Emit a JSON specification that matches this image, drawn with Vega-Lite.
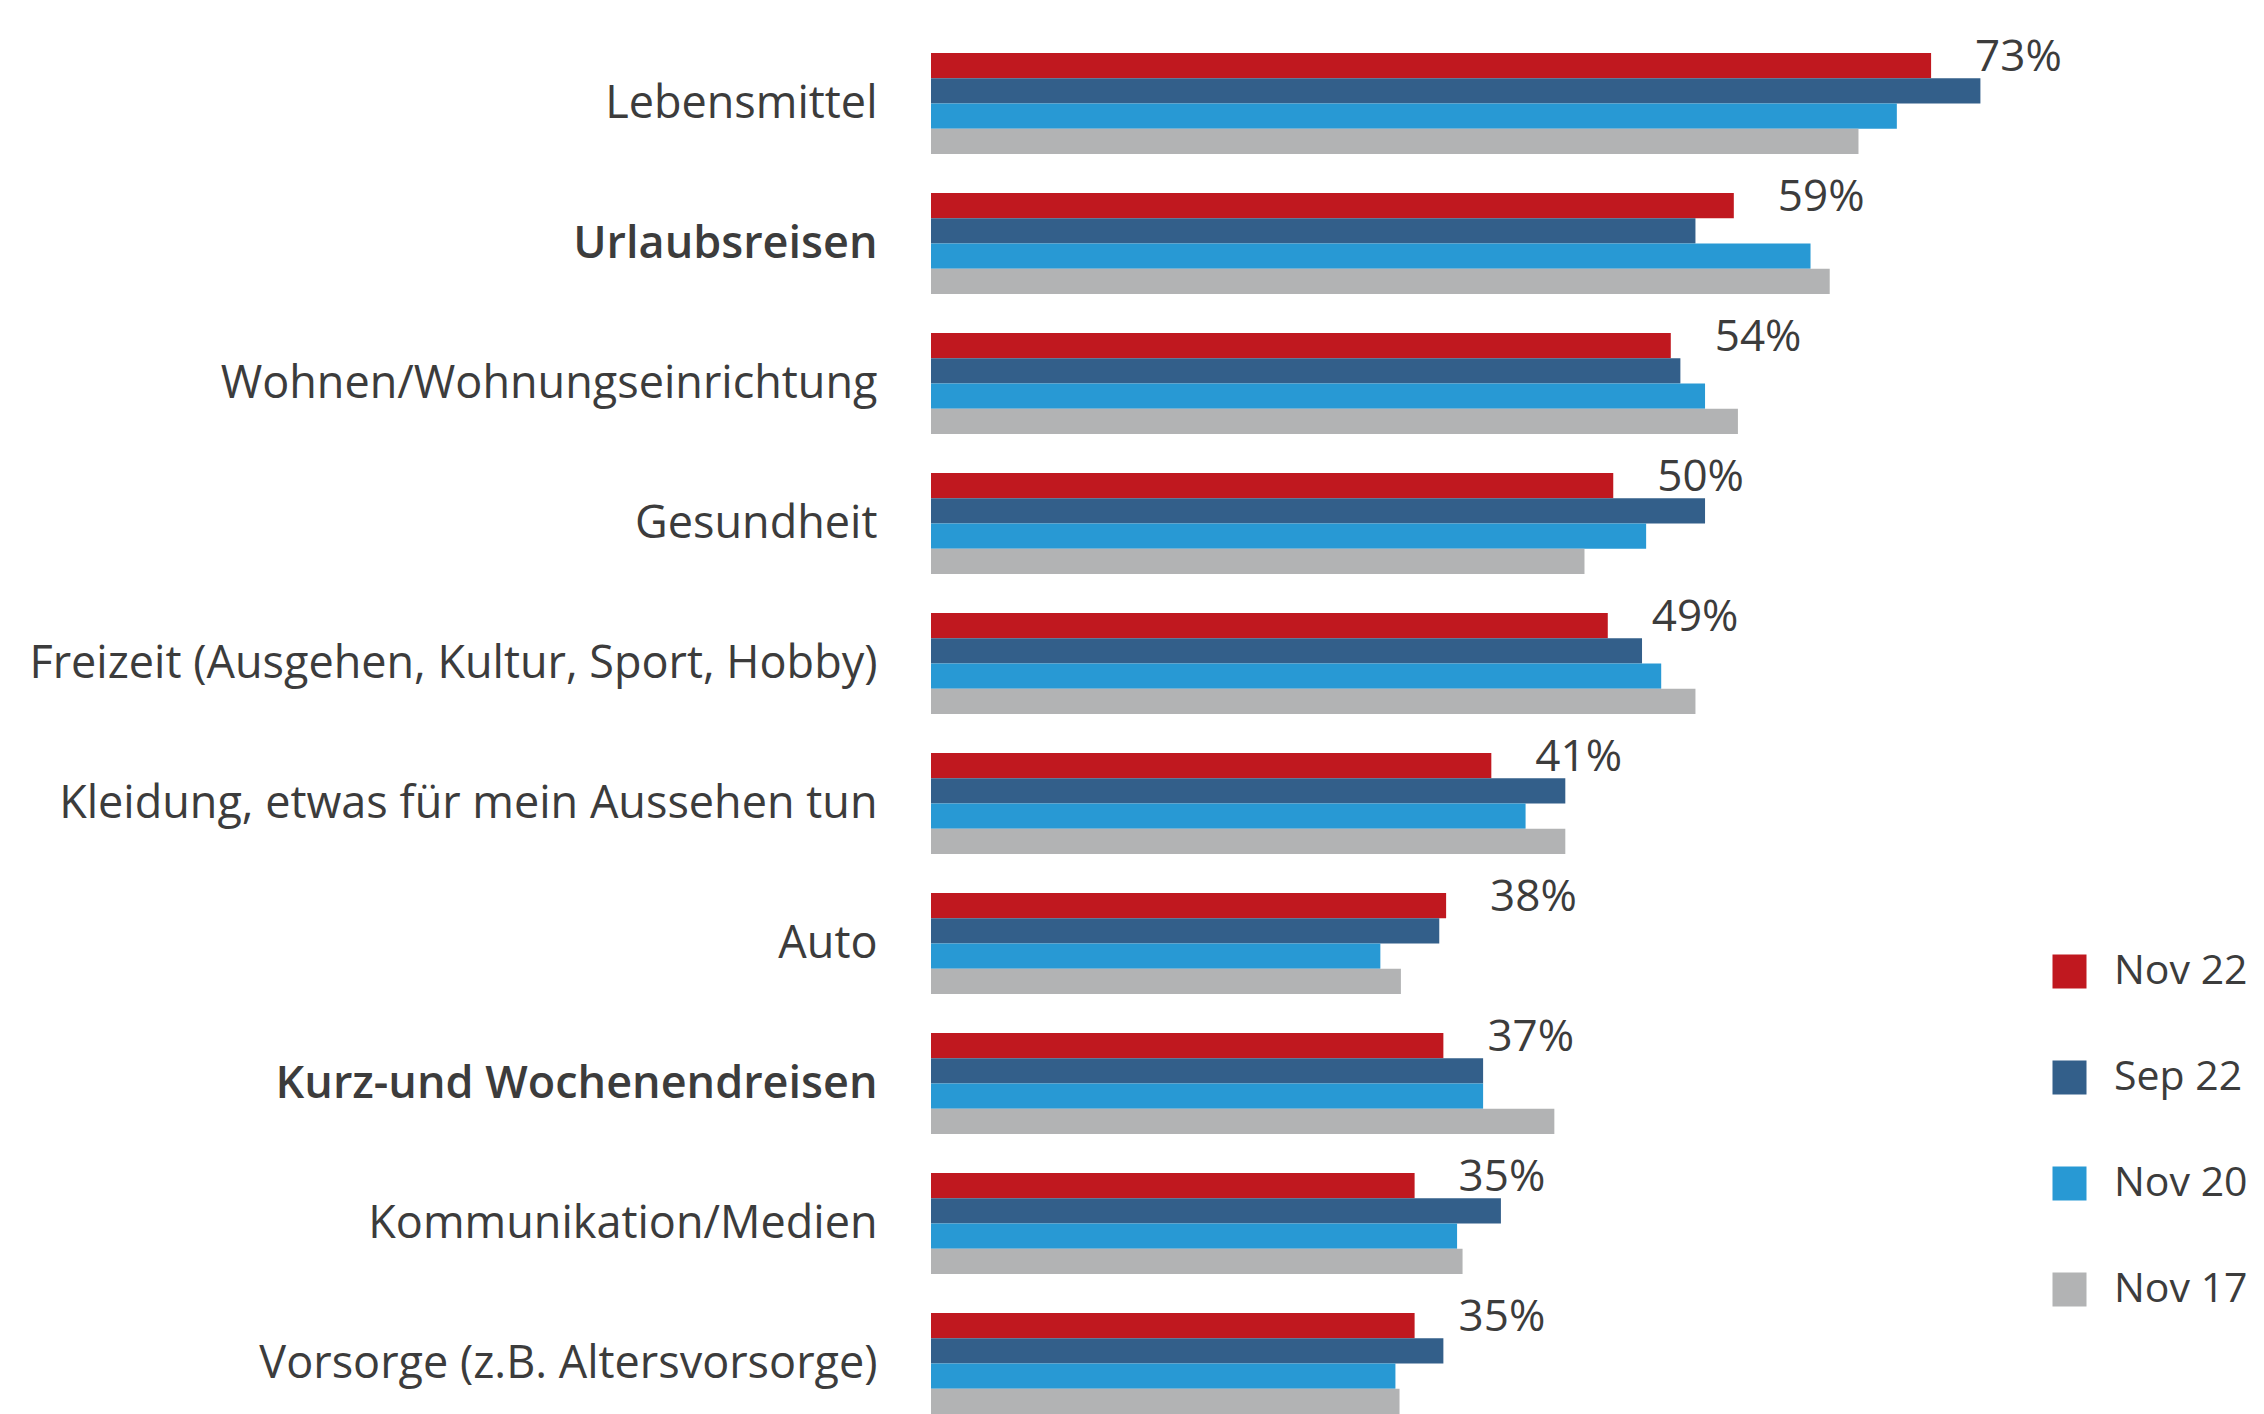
{
  "$schema": "https://vega.github.io/schema/vega-lite/v6.json",
  "width": 1333,
  "height": 1414,
  "autosize": {"type": "none"},
  "padding": {"left": 931, "top": 0, "right": 0, "bottom": 0},
  "background": "white",
  "config": {"view": {"stroke": null}, "font": "Open Sans"},
  "data": {
    "values": [
      {"category": "Lebensmittel", "series": "Nov 22", "value": 0.73},
      {"category": "Lebensmittel", "series": "Sep 22", "value": 0.766},
      {"category": "Lebensmittel", "series": "Nov 20", "value": 0.705},
      {"category": "Lebensmittel", "series": "Nov 17", "value": 0.677},
      {"category": "Urlaubsreisen", "series": "Nov 22", "value": 0.586},
      {"category": "Urlaubsreisen", "series": "Sep 22", "value": 0.558},
      {"category": "Urlaubsreisen", "series": "Nov 20", "value": 0.642},
      {"category": "Urlaubsreisen", "series": "Nov 17", "value": 0.656},
      {"category": "Wohnen/Wohnungseinrichtung", "series": "Nov 22", "value": 0.54},
      {"category": "Wohnen/Wohnungseinrichtung", "series": "Sep 22", "value": 0.547},
      {"category": "Wohnen/Wohnungseinrichtung", "series": "Nov 20", "value": 0.565},
      {"category": "Wohnen/Wohnungseinrichtung", "series": "Nov 17", "value": 0.589},
      {"category": "Gesundheit", "series": "Nov 22", "value": 0.498},
      {"category": "Gesundheit", "series": "Sep 22", "value": 0.565},
      {"category": "Gesundheit", "series": "Nov 20", "value": 0.522},
      {"category": "Gesundheit", "series": "Nov 17", "value": 0.477},
      {"category": "Freizeit (Ausgehen, Kultur, Sport, Hobby)", "series": "Nov 22", "value": 0.494},
      {"category": "Freizeit (Ausgehen, Kultur, Sport, Hobby)", "series": "Sep 22", "value": 0.519},
      {"category": "Freizeit (Ausgehen, Kultur, Sport, Hobby)", "series": "Nov 20", "value": 0.533},
      {"category": "Freizeit (Ausgehen, Kultur, Sport, Hobby)", "series": "Nov 17", "value": 0.558},
      {"category": "Kleidung, etwas für mein Aussehen tun", "series": "Nov 22", "value": 0.409},
      {"category": "Kleidung, etwas für mein Aussehen tun", "series": "Sep 22", "value": 0.463},
      {"category": "Kleidung, etwas für mein Aussehen tun", "series": "Nov 20", "value": 0.434},
      {"category": "Kleidung, etwas für mein Aussehen tun", "series": "Nov 17", "value": 0.463},
      {"category": "Auto", "series": "Nov 22", "value": 0.376},
      {"category": "Auto", "series": "Sep 22", "value": 0.371},
      {"category": "Auto", "series": "Nov 20", "value": 0.328},
      {"category": "Auto", "series": "Nov 17", "value": 0.343},
      {"category": "Kurz-und Wochenendreisen", "series": "Nov 22", "value": 0.374},
      {"category": "Kurz-und Wochenendreisen", "series": "Sep 22", "value": 0.403},
      {"category": "Kurz-und Wochenendreisen", "series": "Nov 20", "value": 0.403},
      {"category": "Kurz-und Wochenendreisen", "series": "Nov 17", "value": 0.455},
      {"category": "Kommunikation/Medien", "series": "Nov 22", "value": 0.353},
      {"category": "Kommunikation/Medien", "series": "Sep 22", "value": 0.416},
      {"category": "Kommunikation/Medien", "series": "Nov 20", "value": 0.384},
      {"category": "Kommunikation/Medien", "series": "Nov 17", "value": 0.388},
      {"category": "Vorsorge (z.B. Altersvorsorge)", "series": "Nov 22", "value": 0.353},
      {"category": "Vorsorge (z.B. Altersvorsorge)", "series": "Sep 22", "value": 0.374},
      {"category": "Vorsorge (z.B. Altersvorsorge)", "series": "Nov 20", "value": 0.339},
      {"category": "Vorsorge (z.B. Altersvorsorge)", "series": "Nov 17", "value": 0.342}
    ]
  },
  "encoding": {
    "y": {
      "field": "category",
      "type": "nominal",
      "sort": ["Lebensmittel", "Urlaubsreisen", "Wohnen/Wohnungseinrichtung", "Gesundheit", "Freizeit (Ausgehen, Kultur, Sport, Hobby)", "Kleidung, etwas für mein Aussehen tun", "Auto", "Kurz-und Wochenendreisen", "Kommunikation/Medien", "Vorsorge (z.B. Altersvorsorge)"],
      "scale": {"paddingInner": 0.279, "paddingOuter": 0.1895, "align": 1},
      "title": null,
      "axis": {
        "domain": false,
        "ticks": false,
        "labelPadding": 54,
        "labelFontSize": 45,
        "labelFont": "Open Sans",
        "labelColor": "#3c3c3c",
        "labelLimit": 1000,
        "labelFontWeight": {"condition": {"test": "datum.value === 'Urlaubsreisen' || datum.value === 'Kurz-und Wochenendreisen'", "value": 600}, "value": "normal"}
      }
    },
    "x": {
      "field": "value",
      "type": "quantitative",
      "scale": {"domain": [0, 0.973], "nice": false},
      "axis": null
    },
    "yOffset": {
      "field": "series",
      "type": "nominal",
      "sort": ["Nov 22", "Sep 22", "Nov 20", "Nov 17"],
      "scale": {"domain": ["Nov 22", "Sep 22", "Nov 20", "Nov 17"], "paddingInner": 0, "paddingOuter": 0}
    }
  },
  "layer": [
    {
      "mark": {"type": "bar"},
      "encoding": {
        "color": {
          "field": "series",
          "type": "nominal",
          "scale": {"domain": ["Nov 22", "Sep 22", "Nov 20", "Nov 17"], "range": ["#C0181F", "#335F8A", "#2899D4", "#B2B3B4"]},
          "legend": {
            "title": null,
            "orient": "none",
            "legendX": 1118,
            "legendY": 951,
            "padding": 0,
            "symbolType": "square",
            "symbolSize": 1156,
            "symbolStrokeWidth": 0,
            "symbolOpacity": 1,
            "labelFontSize": 41,
            "labelFont": "Open Sans",
            "labelColor": "#3c3c3c",
            "labelOffset": 24,
            "rowPadding": 64,
            "labelLimit": 300
          }
        }
      }
    },
    {
      "transform": [{"filter": "datum.series === 'Nov 22'"}],
      "mark": {"type": "text", "align": "left", "baseline": "middle", "dx": 44, "dy": -8, "fontSize": 44, "font": "Open Sans", "color": "#3c3c3c"},
      "encoding": {
        "text": {"field": "value", "type": "quantitative", "format": ".0%"}
      }
    }
  ]
}
